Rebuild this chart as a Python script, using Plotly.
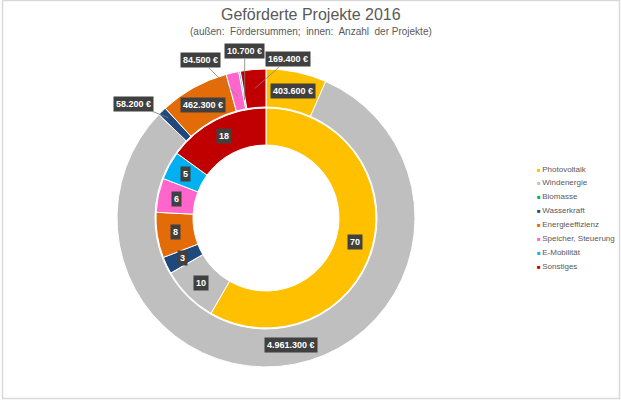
import math
import plotly.graph_objects as go

# Daten
kategorien = ["Photovoltaik", "Windenergie", "Biomasse", "Wasserkraft",
              "Energieeffizienz", "Speicher, Steuerung", "E-Mobilität", "Sonstiges"]
foerdersummen = [403600, 4961300, 0, 58200, 462300, 84500, 10700, 169400]  # außen
anzahl = [70, 10, 0, 3, 8, 6, 5, 18]  # innen
farben = ["#FFC000", "#BFBFBF", "#00B050", "#1F497D",
          "#E36C09", "#FF66CC", "#00B0F0", "#C00000"]

# Geometrie (Pixel)
W, H = 621, 400
cx, cy = 266, 182          # Mittelpunkt, y von unten
r_aussen, r_mitte, r_loch = 149, 110, 73

# Beschriftungen außerhalb: Radius Ankerpunkt, ax, ay
aussen_labels = {
    "Wasserkraft": (140, -35, -14),
    "Speicher, Steuerung": (125, -37, -36),
    "E-Mobilität": (120, 0, -49),
    "Sonstiges": (130, 33, -29),
}

def dom(r):
    return dict(x=[(cx - r) / W, (cx + r) / W], y=[(cy - r) / H, (cy + r) / H])

def mitten_winkel(werte):
    total = sum(werte)
    cum = 0
    out = []
    for v in werte:
        out.append(2 * math.pi * (cum + v / 2) / total)
        cum += v
    return out

def punkt(winkel, r):
    return (cx + r * math.sin(winkel)) / W, (cy + r * math.cos(winkel)) / H

def euro(v):
    return f"{v:,}".replace(",", ".") + " €"

fig = go.Figure()
fig.add_trace(go.Pie(values=foerdersummen, labels=kategorien, domain=dom(r_aussen),
                     hole=(r_mitte + 1) / r_aussen, sort=False, direction="clockwise",
                     marker=dict(colors=farben, line=dict(color="white", width=1)),
                     textinfo="none", showlegend=False))
fig.add_trace(go.Pie(values=anzahl, labels=kategorien, domain=dom(r_mitte),
                     hole=r_loch / r_mitte, sort=False, direction="clockwise",
                     marker=dict(colors=farben, line=dict(color="white", width=1)),
                     textinfo="none", showlegend=False))

box = dict(bgcolor="#404040", borderpad=2, xanchor="center", yanchor="middle",
           font=dict(family="Liberation Sans, Arial", size=9, color="white"))

# Beschriftung außen
for kat, v, w in zip(kategorien, foerdersummen, mitten_winkel(foerdersummen)):
    if v == 0:
        continue
    if kat in aussen_labels:
        r, ax, ay = aussen_labels[kat]
        x, y = punkt(w, r)
        fig.add_annotation(x=x, y=y, xref="paper", yref="paper", text="<b>" + euro(v) + "</b>",
                           showarrow=True, arrowhead=0, arrowwidth=0.8, arrowcolor="#7f7f7f",
                           ax=ax, ay=ay, **box)
    else:
        x, y = punkt(w, (r_mitte + r_aussen) / 2)
        fig.add_annotation(x=x, y=y, xref="paper", yref="paper", text="<b>" + euro(v) + "</b>",
                           showarrow=False, **box)

# Beschriftung innen
for v, w in zip(anzahl, mitten_winkel(anzahl)):
    if v == 0:
        continue
    x, y = punkt(w, 92)
    fig.add_annotation(x=x, y=y, xref="paper", yref="paper", text=f"<b>{v}</b>",
                       showarrow=False, **box)

# Legende
for i, (kat, c) in enumerate(zip(kategorien, farben)):
    fig.add_annotation(x=535 / W, y=1 - (169 + i * 13.9) / H, xref="paper", yref="paper",
                       xanchor="left", yanchor="middle", showarrow=False,
                       text=f"<span style='color:{c};font-size:6px'>■</span>\u2009{kat}",
                       font=dict(family="Liberation Sans, Arial", size=8, color="#595959"))

# Titel
fig.add_annotation(x=0.5, y=1 - 15 / H, xref="paper", yref="paper", showarrow=False,
                   yanchor="middle", text="Geförderte Projekte 2016",
                   font=dict(family="Liberation Sans, Arial", size=16, color="#595959"))
fig.add_annotation(x=0.5, y=1 - 31 / H, xref="paper", yref="paper", showarrow=False,
                   yanchor="middle", text="(außen:  Fördersummen;  innen:  Anzahl  der Projekte)",
                   font=dict(family="Liberation Sans, Arial", size=10, color="#595959"))

# Rahmen
fig.add_shape(type="rect", xref="paper", yref="paper", x0=2.5 / W, x1=619.5 / W,
              y0=1.5 / H, y1=399.5 / H, line=dict(color="#D9D9D9", width=1.5))

fig.update_layout(width=W, height=H, margin=dict(l=0, r=0, t=0, b=0),
                  paper_bgcolor="white", plot_bgcolor="white")
fig.write_html("out.html", config={"displayModeBar": False},
               post_script="document.body.style.margin='0';")
